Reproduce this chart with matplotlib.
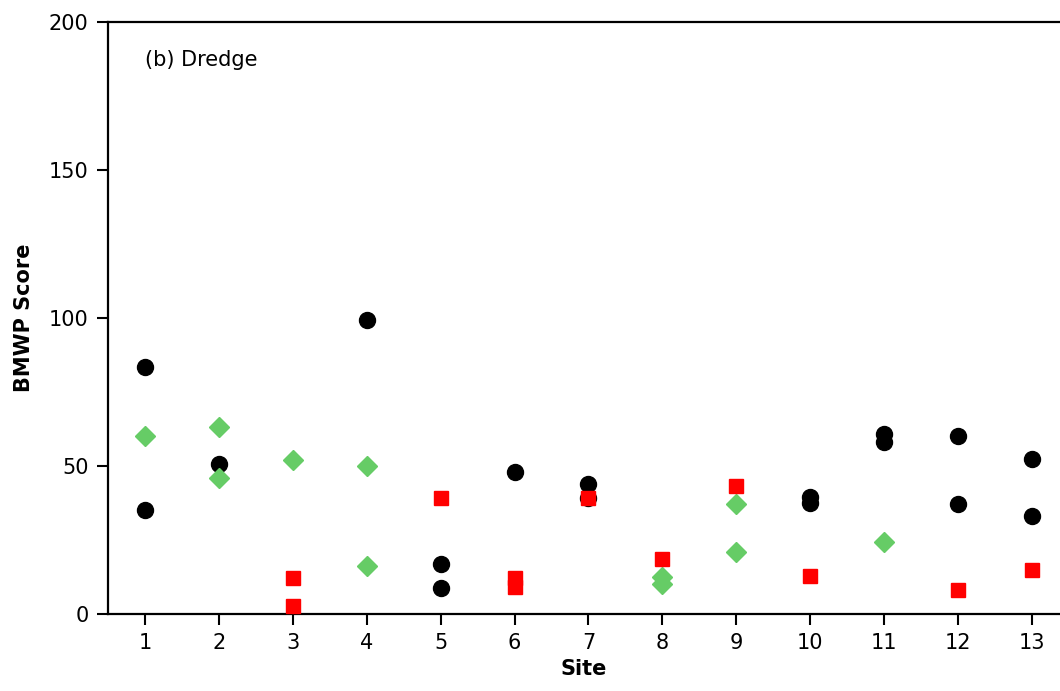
import matplotlib
matplotlib.use("Agg")
import matplotlib.pyplot as plt

# BMWP scores per site, dredge samples
black_sites = [1, 1, 2, 4, 5, 5, 6, 7, 7, 10, 10, 11, 11, 12, 12, 13, 13]
black_vals = [83.4, 35.1, 50.7, 99.3, 16.8, 8.7, 47.9, 43.8, 39.3, 39.6, 37.6, 60.8, 58.0, 60.0, 37.1, 52.5, 33.0]

green_sites = [1, 2, 2, 3, 4, 4, 8, 8, 9, 9, 11]
green_vals = [60.2, 63.1, 46.1, 52.1, 50.1, 16.3, 12.6, 10.1, 37.3, 21.1, 24.4]

red_sites = [3, 3, 5, 6, 6, 7, 8, 9, 10, 12, 13]
red_vals = [12.3, 2.8, 39.3, 12.3, 9.0, 39.3, 18.5, 43.4, 12.9, 8.2, 15.0]

site_ticks = list(range(1, 14))
score_ticks = [0, 50, 100, 150, 200]

plt.rcParams['font.family'] = ['DejaVu Sans']

fig = plt.figure(figsize=(10.6, 6.91), dpi=100)
ax = fig.add_axes([108 / 1060, 1 - 614 / 691, 1 - 108 / 1060, (614 - 22) / 691])

ax.plot(black_sites, black_vals, 'o', color='black', markersize=11.5, linestyle='none', zorder=3)
ax.plot(green_sites, green_vals, 'D', color='#66cc66', markersize=10.5, linestyle='none', zorder=4)
ax.plot(red_sites, red_vals, 's', color='#ff0000', markersize=10.5, linestyle='none', zorder=5)

ax.set_xlim(0.5, 13.38)
ax.set_ylim(0, 200)
ax.set_xticks(site_ticks)
ax.set_yticks(score_ticks)
ax.tick_params(axis='both', direction='out', length=8, width=1.5, labelsize=15, pad=6)

for side in ('left', 'bottom', 'top'):
    ax.spines[side].set_linewidth(1.6)
ax.spines['right'].set_visible(False)

ax.set_xlabel('Site', fontsize=15, fontweight='bold', labelpad=4)
ax.set_ylabel('BMWP Score', fontsize=15, fontweight='bold', labelpad=11)

ax.text(1.0, 187, '(b) Dredge', fontsize=15, ha='left', va='center')

fig.savefig('out.png', dpi=100)
